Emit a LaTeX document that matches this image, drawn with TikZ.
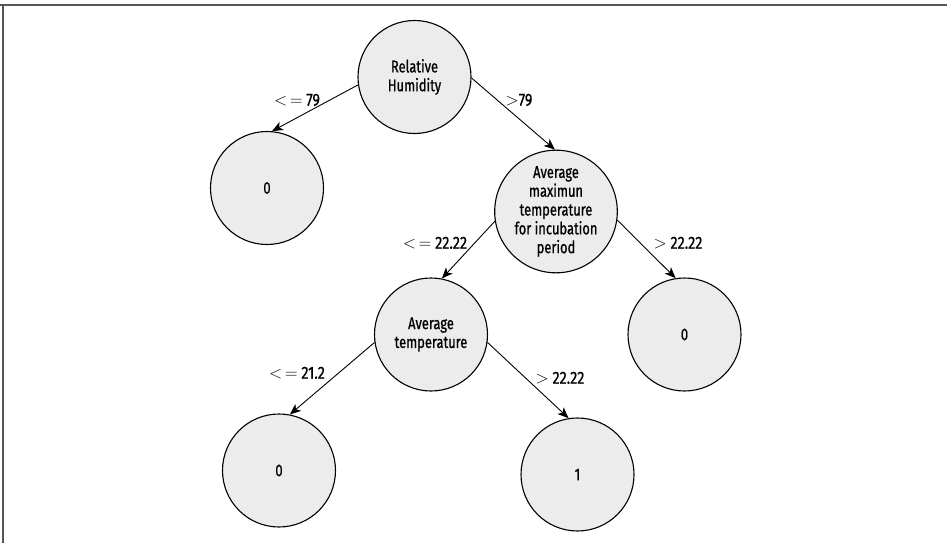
\documentclass[tikz,border=0pt]{standalone}
\usepackage{fontspec}
\setmainfont[FakeStretch=0.76,FakeBold=0.7]{Fira Sans}
\newfontfamily\lblfont[FakeStretch=0.82,FakeBold=0.7]{Fira Sans}
\usetikzlibrary{arrows.meta}
\definecolor{nodefill}{RGB}{235,236,235}
\definecolor{framegray}{RGB}{85,85,85}
\newcommand{\lessq}{\(<\)\,\(=\)}
\tikzset{
  treenode/.style={circle, draw=black, line width=1.1pt, fill=nodefill,
    minimum size=113pt, inner sep=0pt, align=center,
    font=\fontsize{17}{18.8}\selectfont},
  edgelabel/.style={font=\lblfont\fontsize{17.5}{18}\selectfont, inner sep=0pt},
  branch/.style={draw=black, line width=0.9pt, -{Stealth[length=11pt,width=9pt,inset=3pt]}}
}
\begin{document}
\begin{tikzpicture}[x=1pt,y=-1pt]
\useasboundingbox (0,0) rectangle (947,543);
\draw[framegray, line width=1.7pt] (0,5) -- (947,5);
\draw[framegray, line width=1.7pt] (3,5) -- (3,543);

\node[treenode] (rh) at (414.5,77) {Relative\\Humidity};
\node[treenode] (l1) at (267,188) {0};
\node[treenode] (amt) at (556,211.5) {Average\\maximun\\temperature\\for incubation\\period};
\node[treenode] (l2) at (684.5,334.5) {0};
\node[treenode] (at) at (431,334.5) {Average\\temperature};
\node[treenode] (l3) at (279,470.5) {0};
\node[treenode] (l4) at (577.5,474.5) {1};

\draw[branch] (rh.188) -- (l1.85);
\draw[branch] (rh.-1) -- (amt.91);
\draw[branch] (amt.189) -- (at.79);
\draw[branch] (amt.-8.5) -- (l2.99.5);
\draw[branch] (at.188.6) -- (l3.79);
\draw[branch] (at.-8.6) -- (l4.99);

\node[edgelabel] (t1) at (297,100) {\lessq\ 79};
\node[edgelabel] (t2) at (519,100) {\(>\)79};
\node[edgelabel] (t3) at (435,243) {\lessq\ 22.22};
\node[edgelabel] (t4) at (678,243) {\(>\) 22.22};
\node[edgelabel] (t5) at (297,373) {\lessq\ 21.2};
\node[edgelabel] (t6) at (560,378) {\(>\) 22.22};
\end{tikzpicture}
\end{document}
